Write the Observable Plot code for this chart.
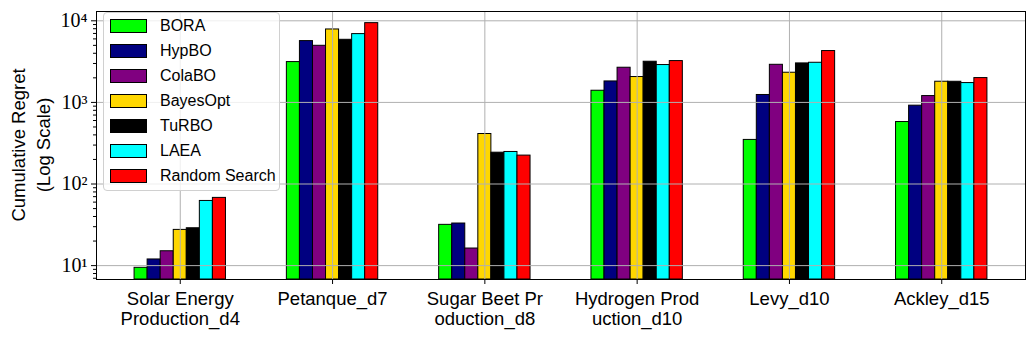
<!DOCTYPE html>
<html>
<head>
<meta charset="utf-8">
<script src="https://cdn.jsdelivr.net/npm/d3@7"></script>
<script src="https://cdn.jsdelivr.net/npm/@observablehq/plot@0.6"></script>
<style>
  html, body { margin: 0; padding: 0; background: #fff; }
  #wrap { position: relative; width: 1035px; height: 339px; overflow: hidden; }
  #legend {
    position: absolute; left: 103px; top: 12px; width: 177px; height: 179px;
    box-sizing: border-box; border: 1px solid #d0d0d0; border-radius: 4px;
    background: rgba(255,255,255,0.8);
    font-family: "Liberation Sans", sans-serif; font-size: 16px; color: #000;
  }
  .row { position: absolute; left: 6px; height: 14px; display: flex; align-items: center; }
  .sw { width: 35px; height: 12px; border: 1px solid #000; box-sizing: content-box; }
  .lab { margin-left: 13px; white-space: nowrap; line-height: 14px; }
  #ylab {
    position: absolute; left: 31px; top: 145px;
    transform: translate(-50%, -50%) rotate(-90deg);
    font-family: "Liberation Sans", sans-serif; font-size: 18.5px; line-height: 25px;
    text-align: center; white-space: pre; color: #000;
  }
</style>
</head>
<body>
<div id="wrap"></div>
<script>
const groups = ["Solar Energy\nProduction_d4", "Petanque_d7", "Sugar Beet Pr\noduction_d8", "Hydrogen Prod\nuction_d10", "Levy_d10", "Ackley_d15"];
const methods = ["BORA", "HypBO", "ColaBO", "BayesOpt", "TuRBO", "LAEA", "Random Search"];
const colors = ["#00ff00", "#000080", "#800080", "#ffd700", "#000000", "#00ffff", "#ff0000"];

const bora     = [9.4,  3120, 31.6, 1390, 347,  575];
const hypbo    = [11.9, 5640, 32.8, 1807, 1233, 912];
const colabo   = [15.0, 4940, 16.2, 2660, 2890, 1196];
const bayesopt = [27.4, 7830, 410,  2046, 2310, 1792];
const turbo    = [28.7, 5850, 242,  3150, 3005, 1790];
const laea     = [62,   6870, 247,  2870, 3060, 1726];
const randomSearch = [67.6, 9360, 223, 3210, 4260, 1987];

const seriesValues = [bora, hypbo, colabo, bayesopt, turbo, laea, randomSearch];
const yMajorTicks = [10, 100, 1000, 10000];
const yLabel = "Cumulative Regret\n(Log Scale)";

const yDomain = [6.76, 13000];
const barW = 0.6 / 7;

const rows = [];
seriesValues.forEach((vals, si) => {
  vals.forEach((v, gi) => rows.push({gi, si, method: methods[si], value: v}));
});

const yMinorTicks = [];
for (let e = 0; e <= 3; e++) for (let m = 2; m <= 9; m++) {
  const v = m * Math.pow(10, e);
  if (v >= yDomain[0] && v <= yDomain[1]) yMinorTicks.push(v);
}

const sup = {"0":"⁰","1":"¹","2":"²","3":"³","4":"⁴","5":"⁵","6":"⁶","7":"⁷","8":"⁸","9":"⁹"};
const fmtPow = v => "10" + String(Math.round(Math.log10(v))).split("").map(c => sup[c]).join("");

const chart = Plot.plot({
  width: 1035,
  height: 339,
  marginLeft: 96,
  marginRight: 10,
  marginTop: 11,
  marginBottom: 60,
  style: {background: "#fff", color: "#000"},
  x: {domain: [-0.55, 5.55]},
  y: {type: "log", domain: yDomain},
  color: {domain: methods, range: colors},
  marks: [
    Plot.rectY(rows, {
      x1: d => d.gi + (d.si - 3.5) * barW,
      x2: d => d.gi + (d.si - 2.5) * barW,
      y1: yDomain[0],
      y2: "value",
      fill: "method",
      stroke: "#000",
      strokeWidth: 1
    }),
    Plot.gridY(yMajorTicks, {stroke: "#b0b0b0", strokeOpacity: 1, strokeWidth: 1}),
    Plot.gridX(d3.range(groups.length), {stroke: "#b0b0b0", strokeOpacity: 1, strokeWidth: 1}),
    Plot.frame({stroke: "#000", strokeWidth: 1}),
    Plot.axisY(yMinorTicks, {tickSize: 3, tickFormat: () => "", label: null}),
    Plot.axisY(yMajorTicks, {tickSize: 5, tickPadding: 4, tickFormat: fmtPow, label: null,
      fontFamily: "'Liberation Serif', 'DejaVu Serif', serif", fontSize: 20}),
    Plot.axisX(d3.range(groups.length), {tickSize: 5, tickPadding: 7, tickFormat: i => groups[i], label: null,
      fontFamily: "'Liberation Sans', sans-serif", fontSize: 18.5, lineHeight: 1.05})
  ]
});

const wrap = document.getElementById("wrap");
wrap.appendChild(chart);

const ylab = document.createElement("div");
ylab.id = "ylab";
ylab.textContent = yLabel;
wrap.appendChild(ylab);

const legend = document.createElement("div");
legend.id = "legend";
methods.forEach((m, i) => {
  const row = document.createElement("div");
  row.className = "row";
  row.style.top = (6 + i * 25.05) + "px";
  const sw = document.createElement("div");
  sw.className = "sw";
  sw.style.background = colors[i];
  const lab = document.createElement("span");
  lab.className = "lab";
  lab.textContent = m;
  row.appendChild(sw);
  row.appendChild(lab);
  legend.appendChild(row);
});
wrap.appendChild(legend);
</script>
</body>
</html>
